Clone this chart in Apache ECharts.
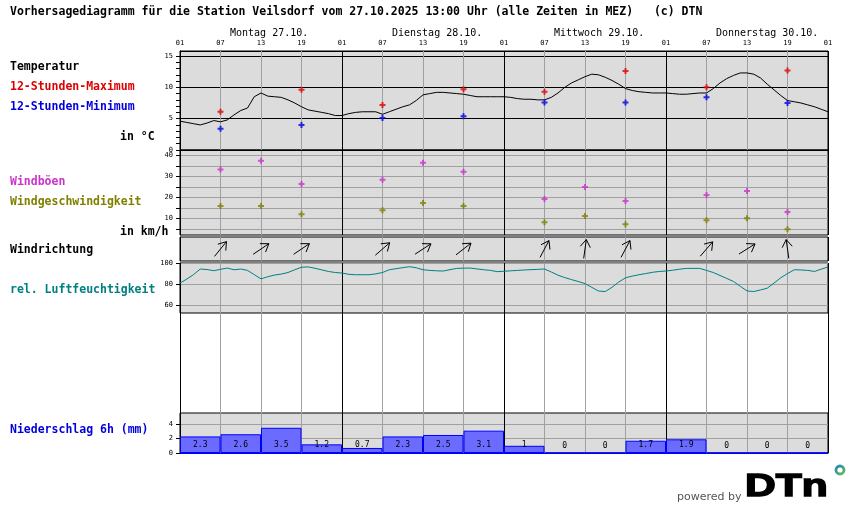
<!DOCTYPE html>
<html><head><meta charset="utf-8">
<script src="https://cdn.jsdelivr.net/npm/echarts@6/dist/echarts.min.js"></script>
<style>html,body{margin:0;padding:0;background:#fff}#c{width:850px;height:524px}</style>
</head><body><div id="c"></div>
<script>
const hourTickLabels = ['01','07','13','19','01','07','13','19','01','07','13','19','01','07','13','19','01'];
const dayNames = ['Montag 27.10.','Dienstag 28.10.','Mittwoch 29.10.','Donnerstag 30.10.'];
// hourly temperature (hour 0 = 01 Uhr Montag)
const temperature = [
4.6,4.4,4.2,4.0,4.3,4.7,4.5,4.8,5.6,6.3,6.7,8.5,9.1,8.6,8.5,8.4,8.0,7.5,6.9,6.4,6.2,6.0,5.8,5.5,
5.5,5.8,6.0,6.1,6.1,6.1,5.7,6.1,6.5,6.9,7.2,7.9,8.8,9.0,9.2,9.2,9.1,9.0,8.9,8.7,8.5,8.5,8.5,8.5,
8.5,8.4,8.2,8.1,8.1,8.0,8.0,8.4,9.1,10.0,10.7,11.2,11.7,12.1,12.0,11.6,11.1,10.5,9.8,9.5,9.3,9.2,9.1,9.1,
9.1,9.0,8.9,8.9,9.0,9.1,9.1,9.8,10.7,11.4,11.9,12.3,12.3,12.1,11.5,10.5,9.6,8.7,7.9,7.7,7.5,7.2,6.9,6.5,
6.1];
const extremeHours = [6,18,30,42,54,66,78,90];
const tempMax = [6.1,9.6,7.2,9.7,9.3,12.6,10.0,12.7];
const tempMin = [3.4,4.0,5.1,5.4,7.6,7.6,8.4,7.5];
const windHours = [6,12,18,30,36,42,54,60,66,78,84,90];
const windGusts = [33.4,37.6,26.5,28.5,36.6,32.3,19.3,25.1,18.4,21.3,23.2,13.1];
const windSpeed = [16.0,16.0,12.1,14.0,17.4,16.0,8.3,11.2,7.3,9.2,10.2,4.9];
const windDirection = [219,236,236,229,237,232,208,188,208,221,238,172]; // degrees, wind from
const humidity = [
81,84.8,89,94.3,93.8,92.7,94,95.2,93.6,94.3,93,89,85,87,88.6,89.5,91,93.6,96,96.3,95,93.5,92,91,
90.5,89.3,88.9,88.9,88.9,89.7,91,93.6,94.6,95.6,96.5,95.5,93.6,93,92.6,92.4,93.7,94.9,95.1,95.2,94.4,93.6,93,91.8,
92.2,92.6,93,93.4,93.7,94,94.3,91.5,88.5,86.2,84.3,82.5,80.5,77,73.5,73,77,82,86,87.6,88.9,90,91.2,92,
92.4,93.2,94.1,94.9,94.9,94.9,93,91,88.2,85.4,82.5,78,73.6,73,74.5,76.2,81,86,90,93.6,93.4,93,92,94.2,
96.2];
const precipPeriods = ['Mo 01-07','Mo 07-13','Mo 13-19','Mo 19-01','Di 01-07','Di 07-13','Di 13-19','Di 19-01',
 'Mi 01-07','Mi 07-13','Mi 13-19','Mi 19-01','Do 01-07','Do 07-13','Do 13-19','Do 19-01'];
const precipitation = [2.3,2.6,3.5,1.2,0.7,2.3,2.5,3.1,1,0,0,1.7,1.9,0,0,0];

const MONO = '"DejaVu Sans Mono", "Liberation Mono", monospace';
const GL = 180, GR = 22, GW = 850 - GL - GR;
const grids = [
  {top:51, height:99, bg:true},
  {top:150, height:85, bg:true},
  {top:237, height:24, bg:true},
  {top:263, height:50, bg:true},
  {top:313, height:100, bg:false},
  {top:413, height:40, bg:true}
];
const vLineColors = ['#000','#a0a0a0','#a0a0a0','#a0a0a0'];
const plus = 'path://M2 0H4V2H6V4H4V6H2V4H0V2H2Z';

const chart = echarts.init(document.getElementById('c'), null, {renderer:'canvas'});
const xAxes = grids.map((g,i)=>({
  type:'value', gridIndex:i, min:0, max:96, interval:6,
  position: i===0 ? 'top' : 'bottom',
  axisLine:{show: i===0 || i===5, lineStyle:{color: i===5 ? '#0000ff' : '#000', width:1}},
  axisTick:{show:false},
  axisLabel: i===0 ? {show:true, margin:4, fontSize:7, fontFamily:MONO, color:'#000',
      formatter:v=>hourTickLabels[Math.round(v/6)] || ''} : {show:false},
  splitLine:{show:true, lineStyle:{color:vLineColors, width:1}}
}));
xAxes.push({type:'category', gridIndex:5, data:precipPeriods, boundaryGap:true,
  axisLine:{show:false}, axisTick:{show:false}, axisLabel:{show:false}, splitLine:{show:false}});

const axLabel = (vals)=>({show:true, customValues:vals, fontSize:7, fontFamily:MONO, color:'#000', margin:7});
const yAxes = [
  {type:'value', gridIndex:0, min:0, max:15.8, interval:5, position:'left',
   axisLine:{show:false}, axisTick:{show:false}, axisLabel:{show:false},
   splitLine:{show:true, lineStyle:{color:'#000', width:1}}},
  {type:'value', gridIndex:1, min:2.2, max:42.7, splitNumber:8,
   axisLine:{show:true, lineStyle:{color:'#000'}},
   axisTick:{show:true, customValues:[5,10,15,20,25,30,35,40], length:4, lineStyle:{color:'#000'}},
   axisLabel:axLabel([10,20,30,40]),
   splitLine:{show:true, lineStyle:{color:'#a0a0a0', width:1}}},
  {type:'value', gridIndex:2, min:0, max:1, show:false},
  {type:'value', gridIndex:3, min:52.7, max:100, splitNumber:2,
   axisLine:{show:true, lineStyle:{color:'#000'}},
   axisTick:{show:true, customValues:[60,80,100], length:4, lineStyle:{color:'#000'}},
   axisLabel:axLabel([60,80,100]),
   splitLine:{show:true, lineStyle:{color:'#a0a0a0', width:1}}},
  {type:'value', gridIndex:4, min:0, max:1, show:false},
  {type:'value', gridIndex:5, min:0, max:5.55, interval:2,
   axisLine:{show:true, lineStyle:{color:'#000'}},
   axisTick:{show:true, customValues:[0,2,4], length:4, lineStyle:{color:'#000'}},
   axisLabel:axLabel([0,2,4]),
   splitLine:{show:true, lineStyle:{color:'#a0a0a0', width:1}}},
  // temperature tick axis (1° ticks, labels every 5°)
  {type:'value', gridIndex:0, min:0, max:15.8, interval:1, position:'left', offset:0,
   axisLine:{show:true, lineStyle:{color:'#000'}},
   axisTick:{show:true, customValues:[0,1,2,3,4,5,6,7,8,9,10,11,12,13,14,15], length:4, lineStyle:{color:'#000'}},
   axisLabel:axLabel([0,5,10,15]),
   splitLine:{show:false}}
];

function arrowItem(params, api){
  const c = api.coord([api.value(0), 0.5]);
  const th = (api.value(1) + 180) * Math.PI / 180;
  const ux = Math.sin(th), uy = -Math.cos(th);
  const L = 19, H = 9, a = 0.6;
  const tip = [c[0] + ux*L/2, c[1] + uy*L/2];
  const tail = [c[0] - ux*L/2, c[1] - uy*L/2];
  const bx = -ux, by = -uy;
  const rot = (ang)=>[tip[0] + H*(bx*Math.cos(ang) - by*Math.sin(ang)), tip[1] + H*(bx*Math.sin(ang) + by*Math.cos(ang))];
  return {type:'group', children:[
    {type:'polyline', shape:{points:[tail, tip]}, style:{stroke:'#000', lineWidth:1, fill:null}},
    {type:'polyline', shape:{points:[rot(a), tip, rot(-a)]}, style:{stroke:'#000', lineWidth:1, fill:null}}
  ]};
}

const series = [
  {type:'line', xAxisIndex:0, yAxisIndex:0, data:temperature.map((v,i)=>[i,v]),
   showSymbol:false, lineStyle:{color:'#000', width:1}, silent:true, z:3},
  {type:'scatter', xAxisIndex:0, yAxisIndex:0, data:extremeHours.map((h,i)=>[h,tempMax[i]]),
   symbol:plus, symbolSize:6, itemStyle:{color:'#e00000'}, z:4},
  {type:'scatter', xAxisIndex:0, yAxisIndex:0, data:extremeHours.map((h,i)=>[h,tempMin[i]]),
   symbol:plus, symbolSize:6, itemStyle:{color:'#0000e8'}, z:4},
  {type:'scatter', xAxisIndex:1, yAxisIndex:1, data:windHours.map((h,i)=>[h,windGusts[i]]),
   symbol:plus, symbolSize:6, itemStyle:{color:'#cc33cc'}, z:4},
  {type:'scatter', xAxisIndex:1, yAxisIndex:1, data:windHours.map((h,i)=>[h,windSpeed[i]]),
   symbol:plus, symbolSize:6, itemStyle:{color:'#808000'}, z:4},
  {type:'custom', xAxisIndex:2, yAxisIndex:2, data:windHours.map((h,i)=>[h,windDirection[i]]),
   renderItem:arrowItem, z:4},
  {type:'line', xAxisIndex:3, yAxisIndex:3, data:humidity.map((v,i)=>[i,v]),
   showSymbol:false, lineStyle:{color:'#008080', width:1}, z:3},
  {type:'bar', xAxisIndex:6, yAxisIndex:5, data:precipitation, barCategoryGap:'0%', barGap:'0%',
   itemStyle:{color:'#6b6bff', borderColor:'#0000ff', borderWidth:1},
   label:{show:true, position:'insideBottom', distance:4, fontSize:8, fontFamily:MONO, color:'#000',
     formatter:p=>String(p.value)}, z:3}
];

const txt = (x,y,text,color,font)=>({type:'text', x, y, silent:true,
  style:{text, fill:color, font, verticalAlign:'middle', align:'left'}});
const BOLD = 'bold 11.5px ' + MONO;
const graphic = [
  txt(10,12,'Vorhersagediagramm für die Station Veilsdorf vom 27.10.2025 13:00 Uhr (alle Zeiten in MEZ)   (c) DTN','#000',BOLD),
  txt(10,67,'Temperatur','#000',BOLD),
  txt(10,87,'12-Stunden-Maximum','#dd0000',BOLD),
  txt(10,107,'12-Stunden-Minimum','#0000dd',BOLD),
  txt(120,137,'in °C','#000',BOLD),
  txt(10,182,'Windböen','#cc33cc',BOLD),
  txt(10,202,'Windgeschwindigkeit','#808000',BOLD),
  txt(120,232,'in km/h','#000',BOLD),
  txt(10,250,'Windrichtung','#000',BOLD),
  txt(10,290,'rel. Luftfeuchtigkeit','#008080',BOLD),
  txt(10,430,'Niederschlag 6h (mm)','#0000dd',BOLD),
  txt(677,497,'powered by','#555','11px "DejaVu Sans", Verdana, sans-serif'),
  {type:'group', x:745, y:503, scaleX:1.42, scaleY:1.02, silent:true, children:[
    {type:'text', x:0, y:0, style:{text:'DTn', fill:'#000', stroke:'#000', lineWidth:1.4,
      font:'bold 30px "Liberation Sans", Arial, sans-serif', verticalAlign:'bottom', align:'left'}}
  ]},
  {type:'circle', silent:true, shape:{cx:840, cy:470, r:4},
   style:{fill:'none', lineWidth:2.8, stroke:new echarts.graphic.LinearGradient(0,0,1,1,[{offset:0,color:'#0a7fd0'},{offset:1,color:'#7cc242'}])}}
];
dayNames.forEach((d,i)=>{
  graphic.push(txt(GL + i*24*GW/96 + 50, 33, d, '#000', '10px ' + MONO));
});

chart.setOption({
  animation:false,
  backgroundColor:'#fff',
  grid: grids.map(g=>({left:GL, right:GR, top:g.top, height:g.height, show:g.bg,
    backgroundColor:'#dcdcdc', borderColor:'#000', borderWidth:1, containLabel:false})),
  xAxis:xAxes, yAxis:yAxes, series, graphic
});
</script></body></html>
